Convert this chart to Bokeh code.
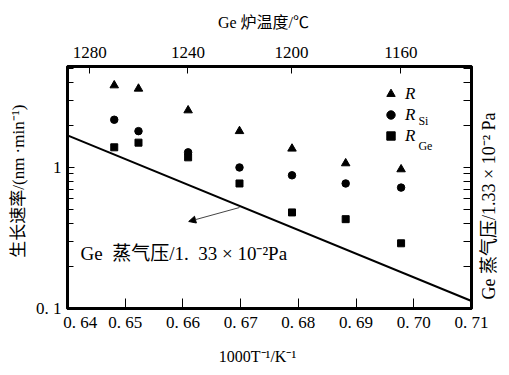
import math
from bokeh.plotting import figure
from bokeh.models import (LogAxis, LinearAxis, FixedTicker, Range1d, Legend,
                          LegendItem, Label, Arrow, NormalHead, ColumnDataSource)
from bokeh.embed import file_html
from bokeh.resources import INLINE

# ---- data ----
inv_T = [0.6481, 0.6523, 0.6609, 0.6698, 0.6789, 0.6882, 0.6978]   # 1000/T, K^-1
rate_R = [3.82, 3.62, 2.54, 1.81, 1.36, 1.07, 0.97]                 # nm/min
rate_Si = [2.18, 1.81, 1.28, 1.00, 0.88, 0.77, 0.72]
rate_Ge = [1.39, 1.50, 1.18, 0.77, 0.48, 0.43, 0.29]
vp_x = [0.64, 0.71]                                                 # Ge vapour pressure line
vp_y = [1.69, 0.113]
x_ticks = [0.64, 0.65, 0.66, 0.67, 0.68, 0.69, 0.70, 0.71]
x_tick_labels = ["\u00a0" * 6 + "0. 64", "0. 65", "0. 66", "0. 67", "0. 68", "0. 69", "0. 70", "0. 71"]
top_temps_C = [1280, 1240, 1200, 1160]
y_ticks = [0.1, 1]
y_tick_labels = ["0. 1", "1"]
y_minor = [0.2, 0.3, 0.4, 0.5, 0.6, 0.7, 0.8, 0.9, 2, 3, 4, 5]

SERIF = "Liberation Serif, 'Noto Sans CJK SC'"
NB = "\u00a0"

p = figure(frame_width=404, frame_height=242, x_range=Range1d(0.64, 0.71),
           y_range=Range1d(0.1, 5.2), y_axis_type="log", output_backend="svg",
           toolbar_location=None,
           min_border_left=67, min_border_right=38, min_border_top=66, min_border_bottom=59,
           x_axis_location=None, y_axis_location=None)
p.grid.visible = False
p.outline_line_color = "black"
p.outline_line_width = 3
p.background_fill_color = "white"
p.border_fill_color = "white"


def style_axis(ax, tick_in, minor_in=0):
    ax.axis_line_color = "black"
    ax.axis_line_width = 3
    ax.major_tick_in = tick_in
    ax.major_tick_out = 0
    ax.minor_tick_in = minor_in
    ax.minor_tick_out = 0
    ax.major_tick_line_color = "black"
    ax.major_tick_line_width = 1
    ax.minor_tick_line_width = 1
    ax.minor_tick_line_color = "black"
    ax.major_label_text_font = SERIF
    ax.major_label_text_font_size = "17px"
    ax.major_label_text_color = "black"
    ax.axis_label_text_font = SERIF
    ax.axis_label_text_font_style = "normal"
    ax.axis_label_text_font_size = "16px"
    ax.axis_label_text_color = "black"


# bottom axis
xb = LinearAxis(ticker=FixedTicker(ticks=x_ticks, minor_ticks=[]),
                major_label_overrides={t: l for t, l in zip(x_ticks, x_tick_labels)},
                axis_label="1000T⁻¹/K⁻¹" + NB * 6)
style_axis(xb, 10)
xb.major_label_standoff = 4
xb.axis_label_standoff = 13
p.add_layout(xb, "below")

# top axis (furnace temperature)
top_pos = [1000.0 / (t + 273.15) for t in top_temps_C]
xt = LinearAxis(ticker=FixedTicker(ticks=top_pos, minor_ticks=[]),
                major_label_overrides={t: str(c) for t, c in zip(top_pos, top_temps_C)},
                axis_label="Ge 炉温度/℃" + NB * 3)
style_axis(xt, 7)
xt.major_label_standoff = 9
xt.axis_label_standoff = 13
p.add_layout(xt, "above")

# left axis
yl = LogAxis(ticker=FixedTicker(ticks=y_ticks, minor_ticks=y_minor),
             axis_label=NB * 3 + "生长速率/(nm ·min⁻¹)",
             major_label_overrides={t: l for t, l in zip(y_ticks, y_tick_labels)})
style_axis(yl, 7, 6)
yl.major_label_standoff = 6
yl.axis_label_standoff = 5
yl.axis_label_text_font_size = "17px"
p.add_layout(yl, "left")

# right axis (vapour pressure scale, ticks only, titled)
yr = LogAxis(ticker=FixedTicker(ticks=[], minor_ticks=y_ticks + y_minor),
             axis_label=NB * 2 + "Ge 蒸气压/1.33 × 10⁻² Pa")
style_axis(yr, 8, 8)
yr.major_label_standoff = 0
yr.axis_label_standoff = 17
yr.axis_label_text_font_size = "18px"
props = yr.properties()
if "axis_label_orientation" in props and "axis_label_align" in props:
    yr.axis_label_orientation = math.pi / 2
    yr.axis_label_align = "start"
p.add_layout(yr, "right")

src = ColumnDataSource(dict(x=inv_T, r=rate_R, si=rate_Si, ge=rate_Ge))
r_tri = p.scatter("x", "r", source=src, marker="triangle", size=8.5, color="black")
r_cir = p.scatter("x", "si", source=src, marker="circle", size=7.5, color="black")
r_sq = p.scatter("x", "ge", source=src, marker="square", size=7, color="black")

p.line(vp_x, vp_y, line_color="black", line_width=2)

legend = Legend(items=[LegendItem(label="R", renderers=[r_tri]),
                       LegendItem(label="R", renderers=[r_cir]),
                       LegendItem(label="R", renderers=[r_sq])],
                location=(313, 162), padding=0, margin=0, spacing=0,
                glyph_width=21, glyph_height=21, label_height=21, label_standoff=4,
                border_line_color=None, background_fill_alpha=0,
                label_text_font=SERIF, label_text_font_style="italic",
                label_text_font_size="17px", label_text_color="black")
p.add_layout(legend)

p.add_layout(Label(x=0.7008, y=2.12, text="Si", text_font=SERIF, text_font_size="12px",
                   text_baseline="middle", text_color="black"))
p.add_layout(Label(x=0.7008, y=1.43, text="Ge", text_font=SERIF, text_font_size="12px",
                   text_baseline="middle", text_color="black"))

p.add_layout(Arrow(x_start=0.6698, y_start=0.52, x_end=0.6610, y_end=0.414,
                   line_width=1, line_color="#444444",
                   end=NormalHead(size=7, fill_color="black", line_color="black")))

p.add_layout(Label(x=0.64225, y=0.2455,
                   text="Ge" + NB * 2 + "蒸气压/1." + NB * 2 + "33" + NB + "×" + NB + "10⁻²Pa",
                   text_font=SERIF, text_font_size="19px", text_baseline="middle",
                   text_color="black"))

open("out.html", "w").write(file_html(p, INLINE))
